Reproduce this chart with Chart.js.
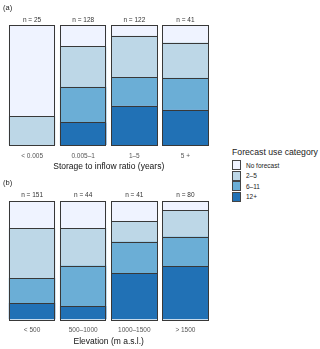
<!DOCTYPE html>
<html>
<head>
<meta charset="utf-8">
<script src="https://cdn.jsdelivr.net/npm/chart.js@4.4.1/dist/chart.umd.min.js"></script>
<style>
  html, body { margin: 0; padding: 0; background: #fff; }
  body { width: 320px; height: 349px; position: relative; overflow: hidden; font-family: "Liberation Sans", Arial, sans-serif; }
  .cv { position: absolute; left: 0; }
  #legend { position: absolute; left: 232px; top: 147px; color: #222; }
  #legend .ttl { font-size: 8.7px; line-height: 10px; white-space: nowrap; margin-bottom: 3px; }
  #legend .row { display: flex; align-items: center; height: 10.5px; }
  #legend .sw { width: 9px; height: 10px; border: 1px solid #444; margin-right: 5px; box-sizing: border-box; }
  #legend .lb { font-size: 6.5px; }
</style>
</head>
<body>
<div class="cv" style="top:0;width:215px;height:174px"><canvas id="ca"></canvas></div>
<div class="cv" style="top:174px;width:215px;height:175px"><canvas id="cb"></canvas></div>
<div id="legend"></div>
<script>
// ---- data (percent of reservoirs in each group) ----
const categoriesA = ['< 0.005', '0.005\u20131', '1\u20135', '5 +'];
const countsA = [25, 128, 122, 41];
const noForecastA = [76, 18, 9, 14.6];
const cat2to5A = [24, 33.6, 34.4, 29.3];
const cat6to11A = [0, 29.7, 23.8, 26.8];
const cat12plusA = [0, 18.8, 32.8, 29.3];

const categoriesB = ['< 500', '500\u20131000', '1000\u20131500', '> 1500'];
const countsB = [151, 44, 41, 80];
const noForecastB = [23.2, 22.7, 17.1, 7.5];
const cat2to5B = [41.7, 31.8, 17.1, 22.5];
const cat6to11B = [21.2, 34.1, 26.8, 25];
const cat12plusB = [13.9, 11.4, 39, 45];

const legendLabels = ['No forecast', '2\u20135', '6\u201311', '12+'];
const colors = ['#eff3ff', '#bdd7e7', '#6baed6', '#2171b5'];

const FONT = '"Liberation Sans", Arial, sans-serif';

// crisp 1px outlines around every bar segment, taken from the bar elements
const crispOutline = {
  id: 'crispOutline',
  afterDatasetsDraw(chart) {
    const ctx = chart.ctx;
    ctx.save();
    ctx.strokeStyle = '#383838';
    ctx.lineWidth = 1;
    chart.data.datasets.forEach((ds, di) => {
      const meta = chart.getDatasetMeta(di);
      meta.data.forEach(el => {
        const p = el.getProps(['x', 'y', 'base', 'width'], true);
        const x0 = Math.round(p.x - p.width / 2) + 0.5;
        const x1 = Math.round(p.x + p.width / 2) - 0.5;
        const yt = Math.round(Math.min(p.y, p.base)) + 0.5;
        const yb = Math.round(Math.max(p.y, p.base)) - 0.5;
        if (yb - yt < 1) return;
        ctx.strokeRect(x0, yt, x1 - x0, Math.round(Math.max(p.y, p.base)) + 0.5 - yt);
      });
    });
    ctx.restore();
  }
};

const topLabels = {
  id: 'topLabels',
  afterDatasetsDraw(chart, args, opts) {
    const { ctx, chartArea } = chart;
    const xs = chart.scales.x;
    ctx.save();
    ctx.fillStyle = '#333';
    ctx.font = '6.5px ' + FONT;
    ctx.textAlign = 'center';
    ctx.textBaseline = 'middle';
    opts.counts.forEach((n, i) => {
      ctx.fillText('n = ' + n, xs.getPixelForValue(i), chartArea.top - opts.gap);
    });
    ctx.fillStyle = '#222';
    ctx.font = '7.5px ' + FONT;
    ctx.textAlign = 'left';
    ctx.fillText(opts.panel, 3, opts.panelY);
    ctx.restore();
  }
};

function makeChart(id, cats, counts, series, title, padTop, padBottom, panel, panelY, gap) {
  const order = [3, 2, 1, 0]; // 12+ at bottom
  const datasets = order.map(k => ({
    label: legendLabels[k],
    data: series[k],
    backgroundColor: colors[k],
    borderWidth: 0,
    barPercentage: 0.91,
    categoryPercentage: 1.0
  }));
  return new Chart(document.getElementById(id), {
    type: 'bar',
    data: { labels: cats, datasets },
    options: {
      responsive: true,
      maintainAspectRatio: false,
      animation: false,
      devicePixelRatio: 1,
      layout: { padding: { top: padTop, left: 6.5, right: 4, bottom: padBottom } },
      plugins: {
        legend: { display: false },
        tooltip: { enabled: false },
        topLabels: { counts, gap, panel, panelY }
      },
      scales: {
        x: {
          stacked: true,
          grid: { display: false, drawTicks: true, tickLength: 4 },
          border: { display: false },
          ticks: { color: '#555', font: { family: FONT, size: 6.5, lineHeight: 1 }, padding: 3.5, maxRotation: 0 },
          title: { display: true, text: title, color: '#111', font: { family: FONT, size: 8.5, lineHeight: 1 }, padding: { top: 0, bottom: 0 } }
        },
        y: { stacked: true, display: false, min: 0, max: 100 }
      }
    },
    plugins: [crispOutline, topLabels]
  });
}

makeChart('ca', categoriesA, countsA, [noForecastA, cat2to5A, cat6to11A, cat12plusA],
  'Storage to inflow ratio (years)', 25, 3, '(a)', 8, 5);
makeChart('cb', categoriesB, countsB, [noForecastB, cat2to5B, cat6to11B, cat12plusB],
  'Elevation (m a.s.l.)', 27, 3.5, '(b)', 9, 6);

const lg = document.getElementById('legend');
let html = '<div class="ttl">Forecast use category</div>';
legendLabels.forEach((l, i) => {
  html += '<div class="row"><div class="sw" style="background:' + colors[i] + '"></div><span class="lb">' + l + '</span></div>';
});
lg.innerHTML = html;
</script>
</body>
</html>
